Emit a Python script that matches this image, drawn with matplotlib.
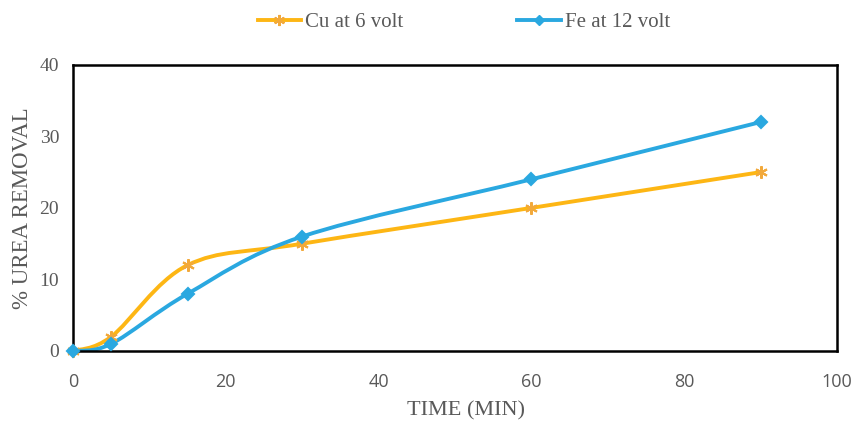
import numpy as np
import matplotlib.pyplot as plt
from matplotlib.path import Path
from matplotlib.patches import PathPatch
from matplotlib.lines import Line2D

# data
time_min = [0, 5, 15, 30, 60, 90]
cu_6v = [0, 2, 12, 15, 20, 25]
fe_12v = [0, 1, 8, 16, 24, 32]
labels = ["Cu at 6 volt", "Fe at 12 volt"]

cu_col = "#FDB614"
cu_mk = "#F2A93B"
fe_col = "#2AA8E0"
grey = "#595959"


def smooth_path(xs, ys):
    # excel style smoothed line: cubic bezier between the data points
    p = np.column_stack([xs, ys]).astype(float)
    n = len(p)
    verts = [p[0]]
    codes = [Path.MOVETO]
    for i in range(n - 1):
        prev = p[i - 1] if i > 0 else p[i]
        nxt = p[i + 2] if i + 2 < n else p[i + 1]
        c1 = p[i] + (p[i + 1] - prev) / 6.0
        c2 = p[i + 1] - (nxt - p[i]) / 6.0
        verts += [c1, c2, p[i + 1]]
        codes += [Path.CURVE4] * 3
    return Path(verts, codes)


fig = plt.figure(figsize=(8.56, 4.21), dpi=100)
ax = fig.add_axes([0.0853, 0.1663, 0.8925, 0.6797])

for ys, col, mk, mcol, ms in [(cu_6v, cu_col, (6, 2, 0), cu_mk, 9),
                              (fe_12v, fe_col, "D", fe_col, 6)]:
    ax.add_patch(PathPatch(smooth_path(time_min, ys), fill=False,
                           edgecolor=col, lw=2.8, capstyle="round", zorder=2))
    ax.plot(time_min, ys, ls="none", marker=mk, ms=ms, color=mcol,
            mec=mcol, mew=1.5, zorder=3, clip_on=False)

ax.set_xlim(0, 100)
ax.set_ylim(0, 40)
ax.set_xticks([0, 20, 40, 60, 80, 100])
ax.set_yticks([0, 10, 20, 30, 40])
ax.tick_params(length=0, colors=grey)
ax.tick_params(axis="x", pad=16)
ax.tick_params(axis="y", pad=10)
for t in ax.get_xticklabels():
    t.set_fontfamily("Open Sans")
    t.set_fontsize(13)
for t in ax.get_yticklabels():
    t.set_fontfamily("Liberation Serif")
    t.set_fontsize(14)
for s in ax.spines.values():
    s.set_linewidth(1.8)
    s.set_color("black")

ax.set_xlabel("TIME (MIN)", family="Liberation Serif", fontsize=16,
              color=grey)
ax.xaxis.set_label_coords(0.515, -0.175)
ax.set_ylabel("% UREA REMOVAL", family="Liberation Serif", fontsize=16.5,
              color=grey, labelpad=5)

handles = [Line2D([], [], color=cu_col, lw=2.8, marker=(6, 2, 0), ms=8,
                  mec=cu_mk, mew=1.5),
           Line2D([], [], color=fe_col, lw=2.8, marker="D", ms=5)]
fig.legend(handles, labels, loc="upper center", bbox_to_anchor=(0.542, 1.015),
           ncol=2, frameon=False, columnspacing=5.45, handlelength=2.1,
           handletextpad=0.2,
           prop={"family": "Liberation Serif", "size": 15},
           labelcolor=grey)

fig.savefig("out.png", dpi=100)
